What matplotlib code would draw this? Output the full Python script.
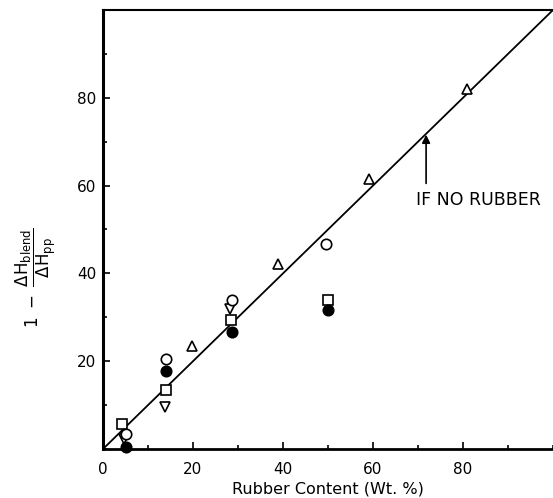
import numpy as np
import matplotlib.pyplot as plt
from matplotlib.ticker import MultipleLocator

# rubber content (wt %) and 1 - dH_blend/dH_pp, one list per marker type
open_circ_x = [5.0, 14.0, 28.7, 49.5]
open_circ_y = [3.4, 20.5, 33.9, 46.7]
fill_circ_x = [5.0, 14.0, 28.7, 49.9]
fill_circ_y = [0.4, 17.8, 26.7, 31.7]
square_x = [4.2, 14.1, 28.4, 49.9]
square_y = [5.7, 13.4, 29.4, 33.9]
tri_up_x = [19.7, 38.8, 59.0, 80.8]
tri_up_y = [23.5, 42.1, 61.4, 81.9]
tri_dn_x = [4.7, 13.8, 28.2]
tri_dn_y = [2.2, 9.6, 32.0]

line_x = [0, 100]
line_y = [0, 100]

xticks = [0, 20, 40, 60, 80]
yticks = [20, 40, 60, 80]

plt.rcParams['mathtext.fontset'] = 'dejavusans'

fig = plt.figure(figsize=(5.53, 4.98), dpi=100)
ax = fig.add_axes([103/553, 49/498, 450/553, 439/498])

ax.plot(line_x, line_y, 'k-', lw=1.3)

mk = dict(ls='none', ms=7.5, mew=1.2, mec='k', clip_on=False)
ax.plot(tri_up_x, tri_up_y, marker='^', mfc='white', **mk)
ax.plot(tri_dn_x, tri_dn_y, marker='v', mfc='white', **mk)
ax.plot(square_x, square_y, marker='s', mfc='white', **mk)
ax.plot(open_circ_x, open_circ_y, marker='o', mfc='white', **mk)
ax.plot(fill_circ_x, fill_circ_y, marker='o', mfc='k', **mk)

ax.annotate('', xy=(71.8, 71.6), xytext=(71.8, 60.5),
            arrowprops=dict(arrowstyle='-|>', color='k', lw=1.2,
                            mutation_scale=12, shrinkA=0, shrinkB=0))
ax.text(69.6, 56.7, 'IF NO RUBBER', fontsize=12.5, va='center', ha='left')

ax.set_xlim(0, 100)
ax.set_ylim(0, 100)
ax.set_xticks(xticks)
ax.set_yticks(yticks)
ax.xaxis.set_minor_locator(MultipleLocator(10))
ax.yaxis.set_minor_locator(MultipleLocator(10))
ax.tick_params(which='both', direction='in', width=1.2)
ax.tick_params(which='major', length=5)
ax.tick_params(which='minor', length=3)
ax.tick_params(axis='x', pad=9, labelsize=11)
ax.tick_params(axis='y', pad=5, labelsize=11)

ax.spines['right'].set_visible(False)
ax.spines['left'].set_linewidth(2.2)
ax.spines['bottom'].set_linewidth(2.0)
ax.spines['top'].set_linewidth(1.5)

ax.set_xlabel('Rubber Content (Wt. %)', fontsize=11.5)
ax.xaxis.set_label_coords(0.5, -0.075)
ax.set_ylabel(r'$1\ -\ \dfrac{\Delta \mathrm{H_{blend}}}{\Delta \mathrm{H_{pp}}}$',
              fontsize=12)
ax.yaxis.set_label_coords(-0.1, 0.39)

fig.savefig('out.png', dpi=100)
